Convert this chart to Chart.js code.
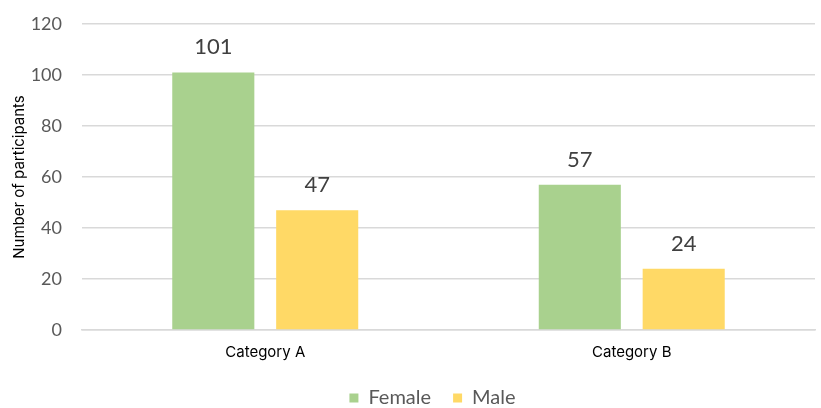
<!DOCTYPE html>
<html>
<head>
<meta charset="utf-8">
<script src="https://cdn.jsdelivr.net/npm/chart.js@4/dist/chart.umd.min.js"></script>
<style>
  html, body { margin: 0; padding: 0; background: #fff; }
  #wrap { width: 821px; height: 408px; position: relative; }
</style>
</head>
<body>
<div id="wrap"><canvas id="chart" width="821" height="408"></canvas></div>
<script>
const categories = ['Category A', 'Category B'];
const femaleValues = [101, 57];
const maleValues = [47, 24];
const yTicks = [0, 20, 40, 60, 80, 100, 120];

// draws the number above each bar
const valueLabels = {
  id: 'valueLabels',
  afterDatasetsDraw(chart) {
    const ctx = chart.ctx;
    ctx.save();
    ctx.font = '22px Lato, "Liberation Sans", sans-serif';
    ctx.fillStyle = '#404040';
    ctx.textAlign = 'center';
    ctx.textBaseline = 'alphabetic';
    chart.data.datasets.forEach((ds, i) => {
      chart.getDatasetMeta(i).data.forEach((bar, j) => {
        ctx.fillText(String(ds.data[j]), bar.x, bar.y - 18);
      });
    });
    ctx.restore();
  },
};

// nudge the legend so it sits centred under the plot area rather than the canvas
const legendShift = {
  id: 'legendShift',
  afterLayout(chart) {
    if (chart.legend) {
      chart.legend.left += 20;
      chart.legend.right += 20;
    }
  },
};

new Chart(document.getElementById('chart').getContext('2d'), {
  type: 'bar',
  data: {
    labels: categories,
    datasets: [
      { label: 'Female', data: femaleValues, backgroundColor: '#a9d18e' },
      { label: 'Male', data: maleValues, backgroundColor: '#ffd966' },
    ],
  },
  options: {
    responsive: false,
    animation: false,
    layout: { padding: { left: 10, right: 6, top: 0, bottom: -10 } },
    datasets: { bar: { categoryPercentage: 0.567, barPercentage: 0.79 } },
    plugins: {
      tooltip: { enabled: false },
      legend: {
        position: 'bottom',
        labels: {
          boxWidth: 9,
          boxHeight: 9,
          padding: 22,
          color: '#595959',
          font: { family: 'Lato, "Liberation Sans", sans-serif', size: 20 },
        },
      },
    },
    scales: {
      y: {
        min: 0,
        max: 120,
        afterBuildTicks(axis) { axis.ticks = yTicks.map(v => ({ value: v })); },
        afterFit(axis) {
          axis.width = 72;
          // tick padding is also added above/below the axis; keep the top tight
          axis.paddingTop = 24;
          axis.paddingBottom = 0;
        },
        grid: { color: '#d9d9d9', lineWidth: 1.5, drawTicks: false },
        border: { display: false },
        ticks: {
          padding: 20,
          color: '#595959',
          font: { family: 'Lato, "Liberation Sans", sans-serif', size: 18 },
        },
        title: {
          display: true,
          text: 'Number of participants',
          color: '#000',
          padding: { top: 0, bottom: 0 },
          font: { family: 'Inter, "Noto Sans", sans-serif', size: 15 },
        },
      },
      x: {
        grid: { display: false },
        border: { color: '#d9d9d9', width: 1.5 },
        ticks: {
          padding: 5,
          color: '#000',
          font: { family: 'Inter, "Noto Sans", sans-serif', size: 15 },
        },
      },
    },
  },
  plugins: [valueLabels, legendShift],
});
</script>
</body>
</html>
